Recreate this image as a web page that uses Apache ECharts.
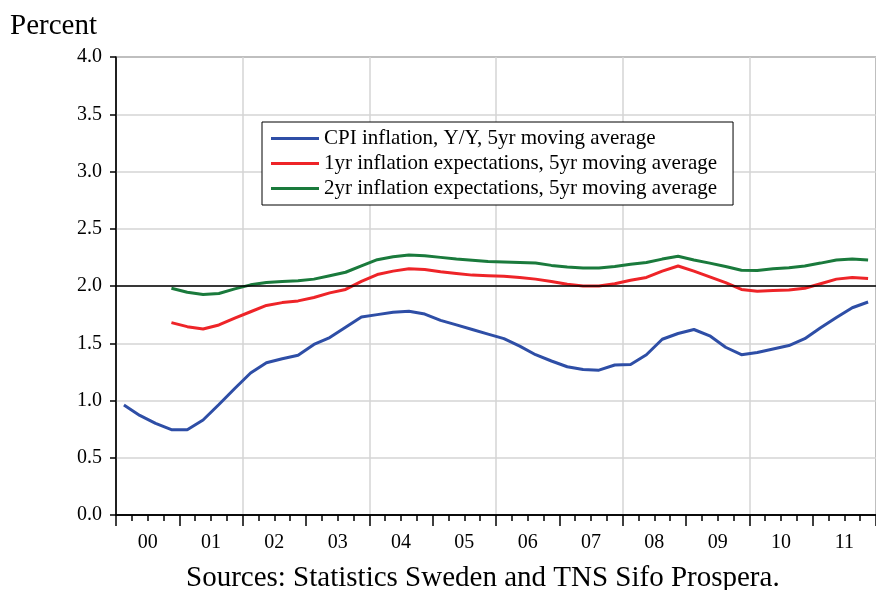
<!DOCTYPE html>
<html>
<head>
<meta charset="utf-8">
<script src="https://cdn.jsdelivr.net/npm/echarts@6/dist/echarts.min.js"></script>
<style>
html,body{margin:0;padding:0;background:#fff;}
#main{width:876px;height:590px;}
</style>
</head>
<body>
<div id="main"></div>
<script>
// year labels on the x axis, one band per year
var years = ['00','01','02','03','04','05','06','07','08','09','10','11'];
var yTicks = [0, 0.5, 1, 1.5, 2, 2.5, 3, 3.5, 4];

var cpiName = 'CPI inflation, Y/Y, 5yr moving average';
var exp1Name = '1yr inflation expectations, 5yr moving average';
var exp2Name = '2yr inflation expectations, 5yr moving average';

// quarterly values 2000Q1 - 2011Q4
var cpi = [0.96, 0.87, 0.80, 0.745, 0.745, 0.83, 0.965, 1.105, 1.24, 1.33, 1.365, 1.395,
           1.49, 1.55, 1.64, 1.73, 1.75, 1.77, 1.78, 1.755, 1.70, 1.66, 1.62, 1.58,
           1.54, 1.475, 1.40, 1.345, 1.295, 1.27, 1.265, 1.31, 1.315, 1.40, 1.535, 1.585,
           1.62, 1.565, 1.465, 1.40, 1.42, 1.45, 1.48, 1.54, 1.635, 1.725, 1.81, 1.86];
var exp1 = ['-', '-', '-', 1.68, 1.645, 1.625, 1.66, 1.72, 1.775, 1.83, 1.855, 1.87,
            1.90, 1.94, 1.97, 2.04, 2.10, 2.13, 2.15, 2.145, 2.125, 2.11, 2.095, 2.09,
            2.085, 2.075, 2.06, 2.04, 2.015, 2.00, 2.00, 2.02, 2.05, 2.075, 2.13, 2.175,
            2.13, 2.08, 2.03, 1.97, 1.955, 1.96, 1.965, 1.98, 2.02, 2.06, 2.075, 2.065];
var exp2 = ['-', '-', '-', 1.98, 1.945, 1.925, 1.935, 1.975, 2.01, 2.03, 2.04, 2.045,
            2.06, 2.09, 2.12, 2.175, 2.23, 2.255, 2.27, 2.265, 2.25, 2.235, 2.225, 2.215,
            2.21, 2.205, 2.20, 2.18, 2.165, 2.157, 2.157, 2.17, 2.19, 2.205, 2.235, 2.26,
            2.227, 2.20, 2.17, 2.137, 2.135, 2.15, 2.16, 2.175, 2.20, 2.227, 2.235, 2.227];

var quarters = [];
for (var i = 0; i < years.length; i++) {
    for (var q = 1; q <= 4; q++) {
        quarters.push(years[i] + 'Q' + q);
    }
}

var font = '"Liberation Serif", "Times New Roman", serif';
var dom = document.getElementById("main");
var myChart = echarts.init(dom);
var option = null;

option = {
    backgroundColor: '#fff',
    animation: false,
    textStyle: {fontFamily: font},
    grid: {
        left: 116,
        top: 57,
        bottom: 75,
        right: -3,
        show: true,
        borderColor: '#000',
        borderWidth: 1
    },
    legend: {
        orient: 'vertical',
        left: 262,
        top: 122,
        padding: [6, 16, 6, 9],
        itemGap: 4,
        itemWidth: 48,
        itemHeight: 3,
        icon: 'rect',
        borderColor: '#000',
        borderWidth: 1,
        backgroundColor: '#fff',
        textStyle: {fontFamily: font, fontSize: 21, color: '#000', lineHeight: 21},
        data: [cpiName, exp1Name, exp2Name]
    },
    graphic: [
        {type: 'text', left: 10, top: 12, style: {text: 'Percent', font: '29px ' + font, fill: '#000'}},
        {type: 'text', left: 186, top: 564, style: {text: 'Sources: Statistics Sweden and TNS Sifo Prospera.', font: '29px ' + font, fill: '#000'}}
    ],
    xAxis: [
        {
            // year bands: long ticks, labels, grid lines every second year
            type: 'category',
            data: years,
            position: 'bottom',
            boundaryGap: true,
            axisLine: {show: true, lineStyle: {color: '#000', width: 1.5}},
            axisTick: {show: true, interval: 0, length: 11, lineStyle: {color: '#000', width: 1.5}},
            axisLabel: {interval: 0, margin: 18, fontSize: 20, color: '#000', fontFamily: font},
            splitLine: {
                show: true,
                interval: function (index) { return index > 0 && index % 2 === 0; },
                lineStyle: {color: '#d4d4d4', width: 1.5}
            }
        },
        {
            // quarters: short ticks, carries the series
            type: 'category',
            data: quarters,
            position: 'bottom',
            offset: 0,
            boundaryGap: true,
            axisLine: {show: true, lineStyle: {color: '#000', width: 1.5}},
            axisTick: {show: true, interval: 0, length: 6, lineStyle: {color: '#000', width: 1.5}},
            axisLabel: {show: true, interval: 0, formatter: function () { return ''; }},
            splitLine: {show: false}
        }
    ],
    yAxis: {
        type: 'value',
        min: yTicks[0],
        max: yTicks[yTicks.length - 1],
        interval: 0.5,
        axisLine: {show: true, lineStyle: {color: '#000', width: 1.5}},
        axisTick: {show: true, length: 6, lineStyle: {color: '#000', width: 1.5}},
        axisLabel: {
            margin: 14,
            fontSize: 20,
            color: '#000',
            fontFamily: font,
            formatter: function (v) { return v.toFixed(1); }
        },
        splitLine: {lineStyle: {color: '#d4d4d4', width: 1.5}}
    },
    series: [
        {
            name: cpiName,
            type: 'line',
            xAxisIndex: 1,
            data: cpi,
            symbol: 'none',
            lineStyle: {color: '#2e4ea6', width: 3},
            itemStyle: {color: '#2e4ea6'},
            z: 3,
            markLine: {
                silent: true,
                symbol: 'none',
                label: {show: false},
                lineStyle: {color: '#000', width: 1.5, type: 'solid'},
                data: [{yAxis: 2}]
            }
        },
        {
            name: exp1Name,
            type: 'line',
            xAxisIndex: 1,
            data: exp1,
            symbol: 'none',
            lineStyle: {color: '#ee2428', width: 3},
            itemStyle: {color: '#ee2428'},
            z: 4
        },
        {
            name: exp2Name,
            type: 'line',
            xAxisIndex: 1,
            data: exp2,
            symbol: 'none',
            lineStyle: {color: '#1a7a3c', width: 3},
            itemStyle: {color: '#1a7a3c'},
            z: 4
        }
    ]
};

if (option && typeof option === "object") {
    myChart.setOption(option, true);
}
</script>
</body>
</html>
